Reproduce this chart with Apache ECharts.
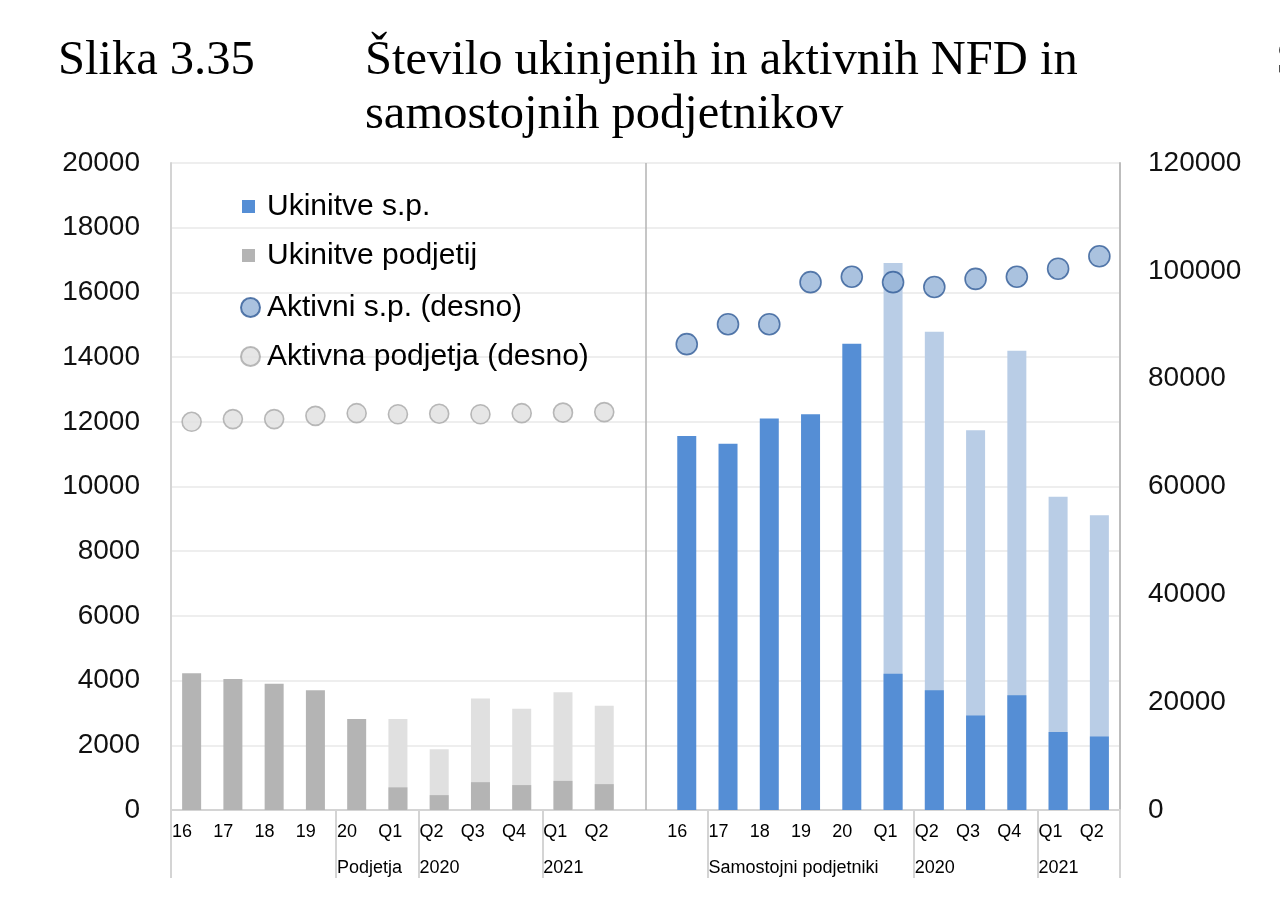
<!DOCTYPE html>
<html>
<head>
<meta charset="utf-8">
<script src="https://cdn.jsdelivr.net/npm/echarts@6/dist/echarts.min.js"></script>
<style>
html,body{margin:0;padding:0;background:#fff;}
#chart{width:1280px;height:924px;}
</style>
</head>
<body>
<div id="chart"></div>
<script>
// Slots: 11 "Podjetja" categories, one empty separator slot, 11 "Samostojni podjetniki" categories
const categories = ['16','17','18','19','20','Q1','Q2','Q3','Q4','Q1','Q2','','16','17','18','19','20','Q1','Q2','Q3','Q4','Q1','Q2'];
// labels placed at slot starts (24 boundaries)
const tickLabels = ['16','17','18','19','20','Q1','Q2','Q3','Q4','Q1','Q2','','16','17','18','19','20','Q1','Q2','Q3','Q4','Q1','Q2',''];
const groupLabels = ['','','','','Podjetja','','2020','','','2021','','','','Samostojni podjetniki','','','','','2020','','','2021','',''];
const groupDividers = [0,4,6,9,13,18,21,23];
const leftTicks = [0,2000,4000,6000,8000,10000,12000,14000,16000,18000,20000];
const rightTicks = [0,20000,40000,60000,80000,100000,120000];

const ukinitvePodjetij = [4230,4050,3900,3700,2810,700,460,860,770,900,800];
const ukinitvePodjetijSkupaj = [null,null,null,null,null,2810,1880,3450,3130,3640,3220];
const ukinitveSp = [11560,11320,12100,12230,14410,4210,3700,2920,3550,2410,2270];
const ukinitveSpSkupaj = [null,null,null,null,null,16910,14780,11740,14200,9680,9110];
const aktivnaPodjetja = [72000,72500,72500,73100,73600,73400,73500,73400,73600,73700,73800];
const aktivniSp = [86400,90100,90100,97900,98900,97900,97000,98500,98900,100400,102700];

const pad = n => Array(n).fill(null);
const leftSide = arr => arr.concat(pad(12));
const rightSide = arr => pad(12).concat(arr);

const FONT = "'Liberation Sans', Arial, sans-serif";
const SERIF = "'Liberation Serif', 'Times New Roman', serif";
const titleStyle = {fontFamily: SERIF, fontSize: 48.5, fontWeight: 'normal', lineHeight: 54, color: '#000'};

const chart = echarts.init(document.getElementById('chart'), null, {renderer:'canvas'});
chart.setOption({
  animation: false,
  backgroundColor: '#ffffff',
  title: [
    {text: 'Slika 3.35', left: 58, top: 34, padding: 0, textStyle: titleStyle},
    {text: 'Število ukinjenih in aktivnih NFD in\nsamostojnih podjetnikov', left: 365, top: 34, padding: 0, textStyle: titleStyle},
    {text: 'S', left: 1276, top: 34, padding: 0, textStyle: titleStyle}
  ],
  legend: [
    {data: ['Ukinitve s.p.', 'Ukinitve podjetij'], orient: 'vertical', left: 242, top: 191, padding: 0,
     icon: 'rect', itemWidth: 13, itemHeight: 13, itemGap: 18, selectedMode: false,
     textStyle: {fontFamily: FONT, fontSize: 30, lineHeight: 31, color: '#000', padding: [0,0,0,7]}},
    {data: ['Aktivni s.p. (desno)', 'Aktivna podjetja (desno)'], orient: 'vertical', left: 240, top: 292, padding: 0,
     icon: 'circle', itemWidth: 19, itemHeight: 19, itemGap: 18, selectedMode: false,
     textStyle: {fontFamily: FONT, fontSize: 30, lineHeight: 31, color: '#000', padding: [0,0,0,2]}}
  ],
  grid: {left: 171, right: 160, top: 163, bottom: 114, containLabel: false},
  xAxis: [
    {type: 'category', data: categories, boundaryGap: true,
     axisLine: {show: true, lineStyle: {color: '#d4d4d4', width: 2}},
     axisTick: {show: false}, axisLabel: {show: false}, splitLine: {show: false}},
    {type: 'category', data: tickLabels, boundaryGap: false, position: 'bottom',
     axisLine: {show: false}, axisTick: {show: false}, splitLine: {show: false},
     axisLabel: {interval: 0, align: 'left', margin: 13, padding: [0,0,0,1],
                 fontFamily: FONT, fontSize: 18, color: '#000'}},
    {type: 'category', data: groupLabels, boundaryGap: false, position: 'bottom',
     axisLine: {show: false}, splitLine: {show: false},
     axisTick: {show: true, length: 68, interval: (i) => groupDividers.indexOf(i) >= 0,
                lineStyle: {color: '#d4d4d4', width: 2}},
     axisLabel: {interval: 0, align: 'left', margin: 49, padding: [0,0,0,1],
                 fontFamily: FONT, fontSize: 18, color: '#000'}}
  ],
  yAxis: [
    {type: 'value', min: leftTicks[0], max: leftTicks[leftTicks.length-1], interval: 2000,
     axisLine: {show: true, lineStyle: {color: '#d4d4d4', width: 2}},
     axisTick: {show: false},
     axisLabel: {margin: 31, fontFamily: FONT, fontSize: 28, color: '#111', formatter: v => String(v)},
     splitLine: {show: true, lineStyle: {color: '#e8e8e8', width: 1.5}}},
    {type: 'value', min: rightTicks[0], max: rightTicks[rightTicks.length-1], interval: 20000, position: 'right',
     axisLine: {show: true, lineStyle: {color: '#bdbdbd', width: 2}},
     axisTick: {show: false},
     axisLabel: {margin: 28, fontFamily: FONT, fontSize: 28, color: '#111', formatter: v => String(v)},
     splitLine: {show: false}}
  ],
  series: [
    {name: 'Ukinitve podjetij (skupaj)', type: 'bar', stack: 'light', barWidth: 19, barGap: '-100%',
     data: leftSide(ukinitvePodjetijSkupaj), itemStyle: {color: '#e0e0e0'},
     markLine: {silent: true, symbol: 'none', label: {show: false},
                lineStyle: {color: '#b3b3b3', width: 1.5, type: 'solid'},
                data: [{xAxis: 11}]}},
    {name: 'Ukinitve s.p. (skupaj)', type: 'bar', stack: 'light', barWidth: 19, barGap: '-100%',
     data: rightSide(ukinitveSpSkupaj), itemStyle: {color: '#b9cde6'}},
    {name: 'Ukinitve podjetij', type: 'bar', stack: 'dark', barWidth: 19, barGap: '-100%',
     data: leftSide(ukinitvePodjetij), itemStyle: {color: '#b4b4b4'}},
    {name: 'Ukinitve s.p.', type: 'bar', stack: 'dark', barWidth: 19, barGap: '-100%',
     data: rightSide(ukinitveSp), itemStyle: {color: '#558ed5'}},
    {name: 'Aktivni s.p. (desno)', type: 'scatter', yAxisIndex: 1, symbol: 'circle', symbolSize: 21,
     data: rightSide(aktivniSp), itemStyle: {color: '#95b3d7', borderColor: '#2f5a96', borderWidth: 1.6}, z: 5},
    {name: 'Aktivna podjetja (desno)', type: 'scatter', yAxisIndex: 1, symbol: 'circle', symbolSize: 19,
     data: leftSide(aktivnaPodjetja), itemStyle: {color: '#e0e0e0', borderColor: '#a8a8a8', borderWidth: 1.6}, z: 5}
  ]
});
</script>
</body>
</html>
